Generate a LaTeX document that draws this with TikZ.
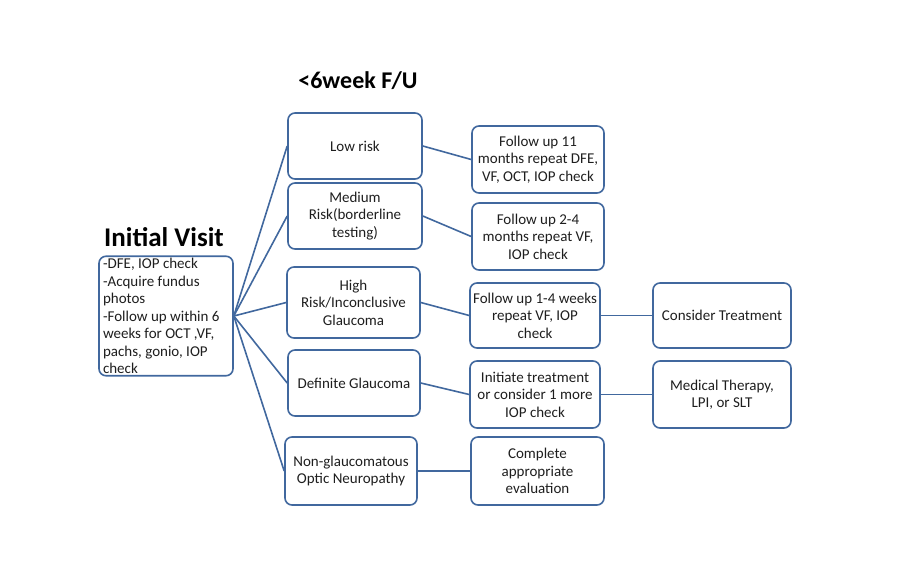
\documentclass[tikz,border=0pt]{standalone}
\usepackage{fontspec}
\setmainfont{Carlito}
\definecolor{boxblue}{HTML}{41689E}
\definecolor{txtgray}{HTML}{1E1E1E}
\tikzset{
  stepbox/.style={draw=boxblue,line width=1.6pt,rounded corners=7pt,align=flush center,
    text=txtgray,inner sep=2pt,
    font=\fontsize{15}{17.5}\selectfont},
  link/.style={draw=boxblue,line width=1.6pt},
  heading/.style={font=\fontsize{24}{27}\selectfont\bfseries,text=black}
}
\begin{document}
\begin{tikzpicture}[x=1pt,y=-1pt]
	\useasboundingbox (0,0) rectangle (907,565);
	% titles
	\node (fu) [heading] at (358,81) {<6week F/U};
	\node (iv) [heading,font=\fontsize{27}{30}\selectfont\bfseries] at (164,237) {Initial Visit};
	% first column
	\node (init) [stepbox,minimum width=134pt,minimum height=118pt,text width=126pt,align=flush left] at (166,316)
		{-DFE, IOP check\\-Acquire fundus\\photos\\-Follow up within 6\\weeks for OCT ,VF,\\pachs, gonio, IOP\\check};
	% risk groups
	\node (low) [stepbox,minimum width=134pt,minimum height=66pt] at (355,146) {Low risk};
	\node (med) [stepbox,minimum width=134pt,minimum height=66pt] at (355,216) {Medium\\Risk(borderline\\testing)};
	\node (high) [stepbox,minimum width=133pt,minimum height=71pt] at (353.5,302.5) {High\\Risk/Inconclusive\\Glaucoma};
	\node (def) [stepbox,minimum width=132pt,minimum height=66pt] at (354,383) {Definite Glaucoma};
	\node (non) [stepbox,minimum width=132pt,minimum height=68pt] at (351,471) {Non-glaucomatous\\Optic Neuropathy};
	% follow up
	\node (fua) [stepbox,minimum width=132pt,minimum height=67pt] at (538,159.5) {Follow up 11\\months repeat DFE,\\VF, OCT, IOP check};
	\node (fub) [stepbox,minimum width=132pt,minimum height=67pt] at (538,236.5) {Follow up 2-4\\months repeat VF,\\IOP check};
	\node (fuc) [stepbox,minimum width=130pt,minimum height=65pt] at (535,315.5) {Follow up 1-4 weeks\\repeat VF, IOP\\check};
	\node (itx) [stepbox,minimum width=130pt,minimum height=67pt] at (535,394.5) {Initiate treatment\\or consider 1 more\\IOP check};
	\node (eval) [stepbox,minimum width=133pt,minimum height=68pt] at (537.5,471) {Complete\\appropriate\\evaluation};
	% treatment
	\node (ctx) [stepbox,minimum width=138pt,minimum height=65pt] at (722,315.5) {Consider Treatment};
	\node (mtx) [stepbox,minimum width=138pt,minimum height=67pt] at (722,394.5) {Medical Therapy,\\LPI, or SLT};
	% links
	\foreach \n in {low,med,high,def,non}
		\draw [link] (init.east) -- (\n.west);
	\draw [link] (low.east) -- (fua.west);
	\draw [link] (med.east) -- (fub.west);
	\draw [link] (high.east) -- (fuc.west);
	\draw [link] (def.east) -- (itx.west);
	\draw [link] (non.east) -- (eval.west);
	\draw [link] (fuc.east) -- (ctx.west);
	\draw [link] (itx.east) -- (mtx.west);
\end{tikzpicture}
\end{document}
